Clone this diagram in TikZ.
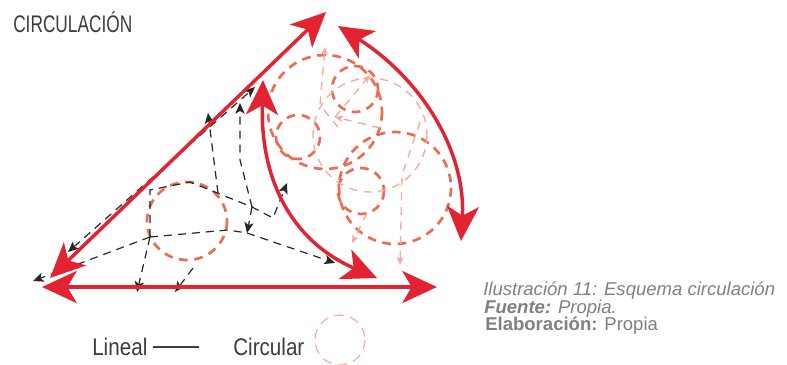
\documentclass[tikz,border=0pt]{standalone}
\usepackage{fontspec}
\setmainfont{Liberation Sans}
\newfontfamily\titlefont[FakeStretch=0.72]{Liberation Sans}
\newfontfamily\legendfont[FakeStretch=0.86]{Liberation Sans}
\usetikzlibrary{arrows.meta}
\definecolor{cred}{HTML}{E32232}
\definecolor{csal}{HTML}{EC6B52}
\definecolor{cpale}{HTML}{F5AA9C}
\definecolor{ctxt}{HTML}{3C3C3C}
\definecolor{ccap}{HTML}{808080}
\begin{document}
\begin{tikzpicture}[x=0.75pt,y=-0.75pt,
  bigtip/.tip={Stealth[length=26pt,width=24pt,inset=7pt]},
  redarrow/.style={draw=cred, line width=2.6pt, bigtip-bigtip},
  blktip/.tip={Stealth[length=8pt,width=7pt,inset=2pt]},
  blk/.style={draw=black!85, line width=0.9pt, dash pattern=on 6pt off 4.5pt},
  saldash/.style={draw=csal, line width=2pt, dash pattern=on 6.5pt off 5pt},
  paledash/.style={draw=cpale, line width=1pt, dash pattern=on 6pt off 5pt},
  paletip/.tip={Stealth[length=6pt,width=5pt,inset=1.5pt]},
  txt/.style={anchor=base west, inner sep=0pt}
]
\useasboundingbox (0,0) rectangle (787,364);

% ---------- title ----------
\node[txt, font=\titlefont\fontsize{18}{20}\selectfont, text=ctxt] (title) at (13,32) {CIRCULACIÓN};

% ---------- salmon dashed circles ----------
\draw[saldash] (187,221) ellipse [x radius=40, y radius=39];
\draw[saldash] (355,89) circle [radius=23];
\draw[saldash] (325,112) circle [radius=57];
\draw[saldash] (298,137) circle [radius=22];
\draw[saldash] (395,188) circle [radius=56];
\draw[saldash] (361,191) circle [radius=23];

% ---------- pale dashed lines ----------
\draw[paledash] (370,135) circle [radius=57];
\coordinate (pa1) at (325,47);
\coordinate (pa1b) at (320,105);
\coordinate (pa1c) at (342,132);
\draw[paledash, paletip-] (pa1) -- (pa1b) -- (pa1c);
\coordinate (pb1) at (420,122);
\coordinate (pb2) at (402,175);
\coordinate (pb3) at (400,265);
\draw[paledash, -paletip] (pb1) -- (pb2) -- (pb3);
\coordinate (pc1) at (367,213);
\coordinate (pc2) at (352,243);
\draw[paledash, -paletip] (pc1) -- (pc2);
\coordinate (pd1) at (335,117);
\coordinate (pd2) at (380,128);
\coordinate (pd3) at (370,75);
\draw[paledash, -paletip] (pd2) -- (pd1);
\draw[paledash, -paletip] (pd1) -- (pd3);

% ---------- black dashed network ----------
\coordinate (b0) at (150,237);
\coordinate (bL) at (33,281);
\coordinate (bD1) at (137,292);
\coordinate (b3s) at (193,268);
\coordinate (bD2) at (175,292);
\coordinate (bT) at (150,190);
\coordinate (t1) at (190,182);
\coordinate (V) at (252,207);
\coordinate (V2) at (273,218);
\coordinate (bUR) at (287,183);
\coordinate (m1) at (228,230);
\coordinate (bC) at (247,233);
\coordinate (bR) at (335,263);
\coordinate (v2s) at (218,193);
\coordinate (bUp) at (208,113);
\coordinate (vmid) at (240,160);
\coordinate (bUL) at (240,103);
\coordinate (dS) at (68,252);
\coordinate (dE) at (255,87);

\draw[blk, -blktip] (b0) -- (bL);
\draw[blk, -blktip] (b0) -- (bD1);
\draw[blk, -blktip] (b3s) -- (bD2);
\draw[blk, -blktip] (b0) -- (bT) -- (t1) -- (V) -- (V2) -- (bUR);
\draw[blk] (b0) -- (m1) -- (bC);
\draw[blk, -blktip] (V) -- (bC);
\draw[blk, -blktip] (bC) -- (bR);
\draw[blk, -blktip] (v2s) -- (bUp);
\draw[blk, -blktip] (V) -- (vmid) -- (bUL);
\draw[blk, blktip-blktip] (dS) -- (dE);

% ---------- red arrows ----------
\coordinate (hL) at (42,287);
\coordinate (hR) at (437,287);
\draw[redarrow] (hL) -- (hR);
\coordinate (dgL) at (50,278);
\coordinate (dgR) at (326,12);
\draw[redarrow] (dgL) -- (dgR);
\coordinate (cvT) at (263,80);
\coordinate (cvB) at (377,278);
\draw[redarrow] (cvT) .. controls (260,190) and (300,245) .. (cvB);
\coordinate (raT) at (338,26);
\coordinate (raB) at (461,241);
\draw[redarrow] (raT) .. controls (420,78) and (466,150) .. (raB);

% ---------- caption ----------
\node[txt, font=\fontsize{13.9}{16}\selectfont\itshape, text=ccap] (cap1) at (483,295) {Ilustración 11: Esquema circulación};
\node[txt, font=\fontsize{13.9}{16}\selectfont, text=ccap] (cap2) at (484,313) {\textbf{\textit{Fuente:}} \textit{Propia.}};
\node[txt, font=\fontsize{13.9}{16}\selectfont, text=ccap] (cap3) at (485,330) {\textbf{Elaboración:} Propia};

% ---------- legend ----------
\node[txt, font=\legendfont\fontsize{18}{20}\selectfont, text=ctxt] (lin) at (92,355) {Lineal};
\coordinate (lg1) at (153,347);
\coordinate (lg2) at (199,347);
\draw[ctxt, line width=0.8pt] (lg1) -- (lg2);
\node[txt, font=\legendfont\fontsize{18}{20}\selectfont, text=ctxt] (circ) at (233,355) {Circular};
\draw[draw=cpale, line width=0.9pt, dash pattern=on 7pt off 5pt] (340,340) circle [radius=25];
\end{tikzpicture}
\end{document}
